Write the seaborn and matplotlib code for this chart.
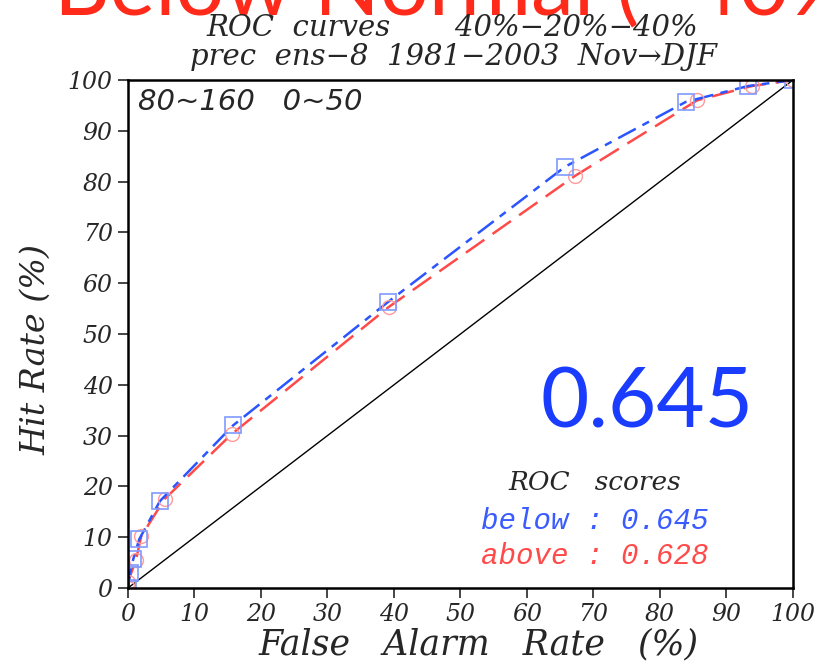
import numpy as np
import pandas as pd
import matplotlib.pyplot as plt
import seaborn as sns

# ROC points (false alarm %, hit %)
below_far = [0.0, 0.3, 0.8, 1.7, 4.8, 15.8, 39.1, 65.7, 83.9, 93.2, 100.0]
below_hit = [0.0, 2.9, 5.7, 9.6, 17.1, 32.0, 56.3, 82.9, 95.7, 98.8, 100.0]
above_far = [0.0, 0.0, 1.2, 2.0, 5.5, 15.6, 39.2, 67.2, 85.6, 93.8, 100.0]
above_hit = [0.0, 1.2, 5.5, 10.2, 17.5, 30.3, 55.3, 81.1, 96.0, 98.8, 100.0]
ticks = list(range(0, 101, 10))
scores = {"below": 0.645, "above": 0.628}

sns.set_style("white")
plt.rcParams['font.family'] = ['DejaVu Serif', 'DejaVu Sans']

fig = plt.figure(figsize=(8.15, 6.61), dpi=100)
ax = fig.add_axes([0.157, 0.1104, 0.816, 0.7686])

df_b = pd.DataFrame({"far": below_far, "hit": below_hit})
df_a = pd.DataFrame({"far": above_far, "hit": above_hit})

ax.plot([0, 100], [0, 100], color="black", lw=1)
sns.lineplot(data=df_a, x="far", y="hit", ax=ax, sort=False, estimator=None,
             color="#ff4a4a", lw=1.8, linestyle=(0, (9, 4)))
sns.lineplot(data=df_b, x="far", y="hit", ax=ax, sort=False, estimator=None,
             color="#2a55ff", lw=1.8, linestyle=(0, (8, 3, 3, 3)))
ax.plot(df_a["far"], df_a["hit"], ls="none", marker="o", ms=10, mfc="none",
        mec="#ff9a9a", mew=1)
ax.plot(df_b["far"], df_b["hit"], ls="none", marker="s", ms=11, mfc="none",
        mec="#7f9aff", mew=1.2)

ax.set_xlim(0, 100)
ax.set_ylim(0, 100)
ax.set_xticks(ticks)
ax.set_yticks(ticks)
ax.tick_params(direction="out", length=7, width=1.2, labelsize=17, pad=4,
               left=True, bottom=True)
for lab in ax.get_xticklabels() + ax.get_yticklabels():
    lab.set_style("italic")
for sp in ax.spines.values():
    sp.set_linewidth(1.8)
    sp.set_color("black")

ax.set_xlabel("False   Alarm   Rate   (%)", fontsize=25, style="italic")
ax.set_ylabel("Hit Rate (%)", fontsize=24, style="italic")
ax.xaxis.set_label_coords(0.527, -0.077)
ax.yaxis.set_label_coords(-0.114, 0.47)

# big red banner, mostly cut off by the top edge
fig.text(-0.005, 0.978, "\u2013", ha="left", va="baseline", zorder=0,
         fontsize=62, color="#ff2a1a", family=["Lato", "DejaVu Sans"])
fig.text(0.066, 0.978, "Below Normal (~40%)", ha="left", va="baseline", zorder=0,
         fontsize=62, color="#ff2a1a", family=["Lato", "DejaVu Sans"])

fig.text(0.555, 0.958, "ROC  curves       40%\u221220%\u221240%", ha="center",
         va="center", fontsize=21, style="italic", zorder=5)
fig.text(0.557, 0.914, "prec  ens\u22128  1981\u22122003  Nov\u2192DJF", ha="center",
         va="center", fontsize=21, style="italic", zorder=5)

ax.text(0.015, 0.957, "80~160   0~50", transform=ax.transAxes, ha="left",
        va="center", fontsize=21, style="italic", family=["DejaVu Sans"])
ax.text(0.78, 0.362, "0.645", transform=ax.transAxes, ha="center", va="center",
        fontsize=60, color="#1a3cff", family=["Lato", "DejaVu Sans"])
ax.text(0.702, 0.207, "ROC   scores", transform=ax.transAxes, ha="center",
        va="center", fontsize=19, style="italic")
ax.text(0.702, 0.131, f"below : {scores['below']:.3f}", transform=ax.transAxes,
        ha="center", va="center", fontsize=21, style="italic", color="#3a5cff",
        family=["Liberation Mono"])
ax.text(0.702, 0.063, f"above : {scores['above']:.3f}", transform=ax.transAxes,
        ha="center", va="center", fontsize=21, style="italic", color="#ff4a4a",
        family=["Liberation Mono"])

fig.savefig("out.png", dpi=100)
